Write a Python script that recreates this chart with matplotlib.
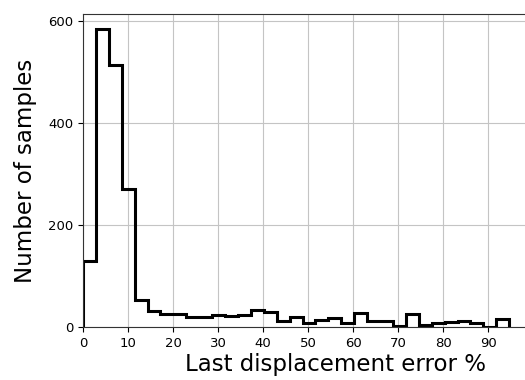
import numpy as np
from matplotlib import pyplot as plt

# histogram counts per bin (33 equal bins from 0 to max error)
counts = [130, 583, 513, 271, 53, 31, 27, 27, 20, 20, 24, 23, 25, 34, 29,
          12, 21, 8, 14, 18, 8, 28, 12, 13, 2, 26, 5, 8, 10, 12, 8, 1, 16]
max_err = 94.6
edges = np.linspace(0, max_err, len(counts) + 1)
centers = (edges[:-1] + edges[1:]) / 2

fig = plt.figure(figsize=(5.25, 3.8), dpi=100)
ax = fig.add_axes([83 / 525, 0.1387, 446 / 525, 0.824])
ax.hist(centers, bins=edges, weights=counts, histtype='step',
        color='black', linewidth=2.2)
ax.set_xlim(0, 99)
ax.set_ylim(0, 613)
ax.set_xticks(np.arange(0, 100, 10))
ax.set_yticks([0, 200, 400, 600])
ax.grid(True, color='#c4c4c4', linewidth=0.8)
ax.set_axisbelow(True)
ax.tick_params(labelsize=9.5)
for s in ax.spines.values():
    s.set_color('#333333')
ax.set_xlabel('Last displacement error %', fontsize=16.5)
ax.xaxis.set_label_coords(0.567, -0.083, transform=ax.transAxes)
ax.xaxis.label.set_va('top')
ax.set_ylabel('Number of samples', fontsize=16.5, labelpad=8)
fig.savefig('out.png', dpi=100)
